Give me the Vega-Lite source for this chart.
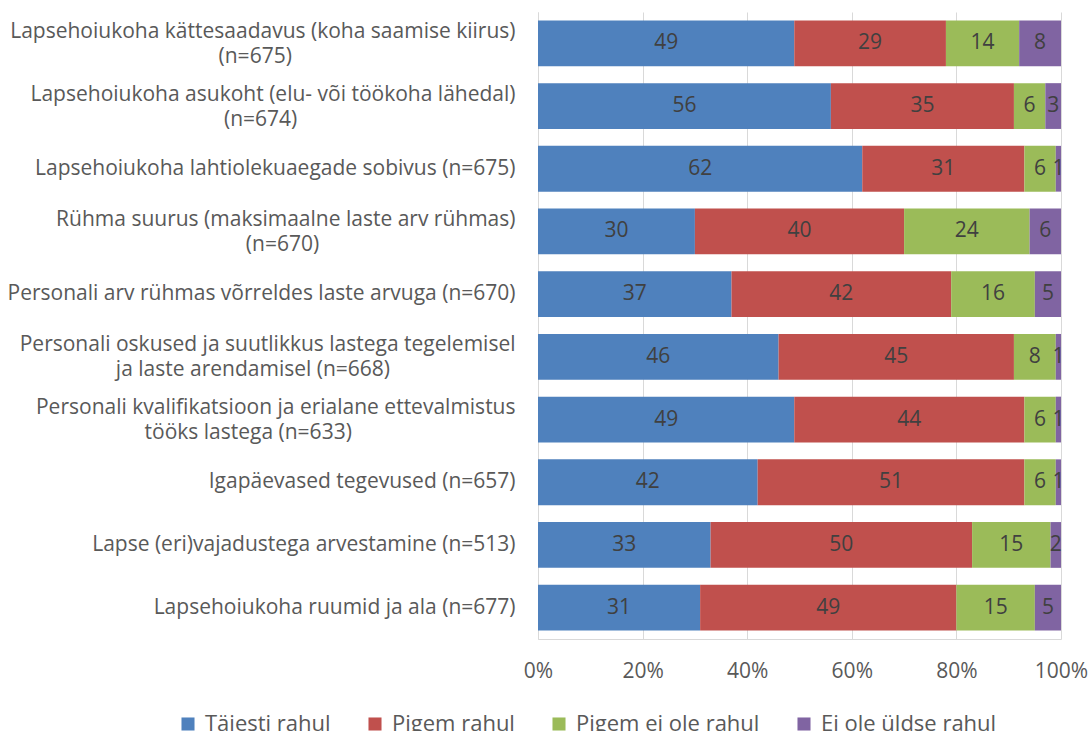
{
  "$schema": "https://vega.github.io/schema/vega-lite/v6.json",
  "autosize": "none",
  "width": 523,
  "height": 627,
  "padding": {"left": 538, "top": 12, "right": 29, "bottom": 92},
  "config": {
    "view": {"stroke": null},
    "font": "Open Sans",
    "axis": {"labelFont": "Open Sans", "labelColor": "#595959", "labelFontSize": 21, "domainColor": "#D9D9D9", "gridColor": "#D9D9D9", "ticks": false}
  },
  "data": {"values": [
    {"q": "Lapsehoiukoha kättesaadavus (koha saamise kiirus)|(n=675)", "cat": "Täiesti rahul", "ord": 1, "val": 49},
    {"q": "Lapsehoiukoha kättesaadavus (koha saamise kiirus)|(n=675)", "cat": "Pigem rahul", "ord": 2, "val": 29},
    {"q": "Lapsehoiukoha kättesaadavus (koha saamise kiirus)|(n=675)", "cat": "Pigem ei ole rahul", "ord": 3, "val": 14},
    {"q": "Lapsehoiukoha kättesaadavus (koha saamise kiirus)|(n=675)", "cat": "Ei ole üldse rahul", "ord": 4, "val": 8},
    {"q": "Lapsehoiukoha asukoht (elu- või töökoha lähedal)|(n=674)", "cat": "Täiesti rahul", "ord": 1, "val": 56},
    {"q": "Lapsehoiukoha asukoht (elu- või töökoha lähedal)|(n=674)", "cat": "Pigem rahul", "ord": 2, "val": 35},
    {"q": "Lapsehoiukoha asukoht (elu- või töökoha lähedal)|(n=674)", "cat": "Pigem ei ole rahul", "ord": 3, "val": 6},
    {"q": "Lapsehoiukoha asukoht (elu- või töökoha lähedal)|(n=674)", "cat": "Ei ole üldse rahul", "ord": 4, "val": 3},
    {"q": "Lapsehoiukoha lahtiolekuaegade sobivus (n=675)", "cat": "Täiesti rahul", "ord": 1, "val": 62},
    {"q": "Lapsehoiukoha lahtiolekuaegade sobivus (n=675)", "cat": "Pigem rahul", "ord": 2, "val": 31},
    {"q": "Lapsehoiukoha lahtiolekuaegade sobivus (n=675)", "cat": "Pigem ei ole rahul", "ord": 3, "val": 6},
    {"q": "Lapsehoiukoha lahtiolekuaegade sobivus (n=675)", "cat": "Ei ole üldse rahul", "ord": 4, "val": 1},
    {"q": "Rühma suurus (maksimaalne laste arv rühmas)|(n=670)", "cat": "Täiesti rahul", "ord": 1, "val": 30},
    {"q": "Rühma suurus (maksimaalne laste arv rühmas)|(n=670)", "cat": "Pigem rahul", "ord": 2, "val": 40},
    {"q": "Rühma suurus (maksimaalne laste arv rühmas)|(n=670)", "cat": "Pigem ei ole rahul", "ord": 3, "val": 24},
    {"q": "Rühma suurus (maksimaalne laste arv rühmas)|(n=670)", "cat": "Ei ole üldse rahul", "ord": 4, "val": 6},
    {"q": "Personali arv rühmas võrreldes laste arvuga (n=670)", "cat": "Täiesti rahul", "ord": 1, "val": 37},
    {"q": "Personali arv rühmas võrreldes laste arvuga (n=670)", "cat": "Pigem rahul", "ord": 2, "val": 42},
    {"q": "Personali arv rühmas võrreldes laste arvuga (n=670)", "cat": "Pigem ei ole rahul", "ord": 3, "val": 16},
    {"q": "Personali arv rühmas võrreldes laste arvuga (n=670)", "cat": "Ei ole üldse rahul", "ord": 4, "val": 5},
    {"q": "Personali oskused ja suutlikkus lastega tegelemisel|ja laste arendamisel (n=668)", "cat": "Täiesti rahul", "ord": 1, "val": 46},
    {"q": "Personali oskused ja suutlikkus lastega tegelemisel|ja laste arendamisel (n=668)", "cat": "Pigem rahul", "ord": 2, "val": 45},
    {"q": "Personali oskused ja suutlikkus lastega tegelemisel|ja laste arendamisel (n=668)", "cat": "Pigem ei ole rahul", "ord": 3, "val": 8},
    {"q": "Personali oskused ja suutlikkus lastega tegelemisel|ja laste arendamisel (n=668)", "cat": "Ei ole üldse rahul", "ord": 4, "val": 1},
    {"q": "Personali kvalifikatsioon ja erialane ettevalmistus|tööks lastega (n=633)", "cat": "Täiesti rahul", "ord": 1, "val": 49},
    {"q": "Personali kvalifikatsioon ja erialane ettevalmistus|tööks lastega (n=633)", "cat": "Pigem rahul", "ord": 2, "val": 44},
    {"q": "Personali kvalifikatsioon ja erialane ettevalmistus|tööks lastega (n=633)", "cat": "Pigem ei ole rahul", "ord": 3, "val": 6},
    {"q": "Personali kvalifikatsioon ja erialane ettevalmistus|tööks lastega (n=633)", "cat": "Ei ole üldse rahul", "ord": 4, "val": 1},
    {"q": "Igapäevased tegevused (n=657)", "cat": "Täiesti rahul", "ord": 1, "val": 42},
    {"q": "Igapäevased tegevused (n=657)", "cat": "Pigem rahul", "ord": 2, "val": 51},
    {"q": "Igapäevased tegevused (n=657)", "cat": "Pigem ei ole rahul", "ord": 3, "val": 6},
    {"q": "Igapäevased tegevused (n=657)", "cat": "Ei ole üldse rahul", "ord": 4, "val": 1},
    {"q": "Lapse (eri)vajadustega arvestamine (n=513)", "cat": "Täiesti rahul", "ord": 1, "val": 33},
    {"q": "Lapse (eri)vajadustega arvestamine (n=513)", "cat": "Pigem rahul", "ord": 2, "val": 50},
    {"q": "Lapse (eri)vajadustega arvestamine (n=513)", "cat": "Pigem ei ole rahul", "ord": 3, "val": 15},
    {"q": "Lapse (eri)vajadustega arvestamine (n=513)", "cat": "Ei ole üldse rahul", "ord": 4, "val": 2},
    {"q": "Lapsehoiukoha ruumid ja ala (n=677)", "cat": "Täiesti rahul", "ord": 1, "val": 31},
    {"q": "Lapsehoiukoha ruumid ja ala (n=677)", "cat": "Pigem rahul", "ord": 2, "val": 49},
    {"q": "Lapsehoiukoha ruumid ja ala (n=677)", "cat": "Pigem ei ole rahul", "ord": 3, "val": 15},
    {"q": "Lapsehoiukoha ruumid ja ala (n=677)", "cat": "Ei ole üldse rahul", "ord": 4, "val": 5}
  ]},
  "transform": [
    {"stack": "val", "groupby": ["q"], "sort": [{"field": "ord", "order": "ascending"}], "as": ["x0", "x1"]},
    {"calculate": "(datum.x0 + datum.x1) / 2", "as": "xm"}
  ],
  "encoding": {
    "y": {
      "field": "q", "type": "nominal", "sort": null, "title": null,
      "scale": {"paddingInner": 0.27, "paddingOuter": 0.135},
      "axis": {
        "labelPadding": 23, "labelLineHeight": 25, "labelLimit": 600, "labelBaseline": "middle", "domain": true, "grid": false,
        "labelOffset": {"condition": {"test": "indexof(datum.value, '|') >= 0", "value": -11.5}, "value": 0},
        "labelExpr": "indexof(datum.label, '|') < 0 ? datum.label : [split(datum.label, '|')[0], split(datum.label, '|')[1] + pad('', round((length(split(datum.label, '|')[0]) - length(split(datum.label, '|')[1])) * 0.98 + 0.3), '\u00a0') + '\u200b']"
      }
    }
  },
  "layer": [
    {
      "mark": {"type": "bar"},
      "encoding": {
        "x": {"field": "x0", "type": "quantitative", "scale": {"domain": [0, 100], "nice": false}, "title": null,
          "axis": {"values": [0, 20, 40, 60, 80, 100], "labelExpr": "datum.value + '%'", "labelPadding": 21, "labelFlush": false, "grid": true, "domain": true}},
        "x2": {"field": "x1"},
        "color": {
          "field": "cat", "type": "nominal",
          "scale": {"domain": ["Täiesti rahul", "Pigem rahul", "Pigem ei ole rahul", "Ei ole üldse rahul"], "range": ["#4F81BD", "#C0504D", "#9BBB59", "#8064A2"]},
          "legend": {"title": null, "orient": "none", "direction": "horizontal", "legendX": -361, "legendY": 701, "symbolType": "square", "symbolSize": 170, "symbolStrokeWidth": 0, "labelFontSize": 22, "labelFont": "Open Sans", "labelColor": "#595959", "labelLimit": 400, "columnPadding": 33, "labelOffset": 6}
        }
      }
    },
    {
      "mark": {"type": "text", "fontSize": 21, "color": "#404040", "font": "Open Sans"},
      "encoding": {
        "x": {"field": "xm", "type": "quantitative"},
        "text": {"field": "val", "type": "quantitative"}
      }
    }
  ]
}
